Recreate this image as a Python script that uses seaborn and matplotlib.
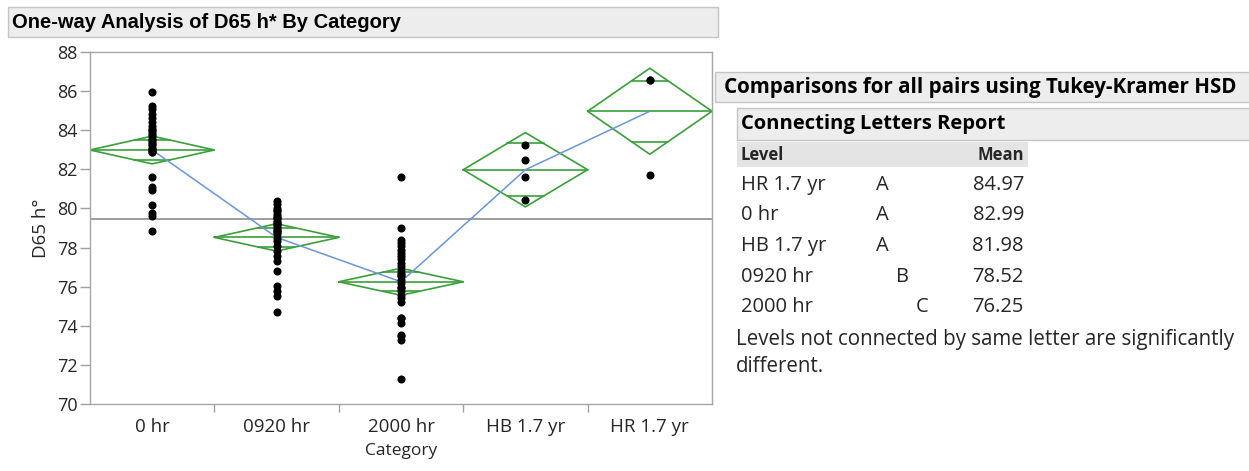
import numpy as np
import pandas as pd
import seaborn as sns
import matplotlib.pyplot as plt
from matplotlib.patches import Rectangle

# ---------------------------
# Data
# ---------------------------
categories = ['0 hr', '0920 hr', '2000 hr', 'HB 1.7 yr', 'HR 1.7 yr']

pts_0hr = [85.96, 85.24, 85.07, 84.85, 84.64, 84.41, 84.24, 84.07, 83.90, 83.73,
           83.56, 83.39, 83.22, 83.05, 82.87, 83.10, 83.30, 83.50, 83.80, 84.00,
           83.00, 82.90, 81.59, 81.12, 80.95, 80.17, 79.79, 79.62, 78.84]
pts_0920 = [80.39, 80.22, 80.04, 79.87, 79.70, 79.53, 79.36, 79.19, 79.01, 78.84,
            78.67, 78.50, 78.33, 78.07, 77.81, 77.56, 77.30, 76.79, 76.01, 75.76,
            75.50, 74.73, 79.30, 79.50, 79.10, 79.90, 79.60, 78.90, 79.20, 78.80]
pts_2000 = [81.59, 79.01, 78.41, 78.24, 78.07, 77.90, 77.73, 77.56, 77.39, 77.21,
            77.04, 76.87, 76.70, 76.53, 76.36, 76.18, 75.93, 75.59, 75.24, 74.38,
            74.13, 73.54, 73.28, 71.30, 76.00, 75.80, 75.40, 74.40, 73.50, 76.60]
pts_hb = [83.25, 82.48, 81.59, 80.44]
pts_hr = [86.55, 86.55, 81.70]

group_means = [82.99, 78.52, 76.25, 81.98, 84.97]
ci_half = [0.71, 0.70, 0.69, 1.90, 2.20]
grand_mean = 79.46

# connecting letters report
report_levels = ['HR 1.7 yr', '0 hr', 'HB 1.7 yr', '0920 hr', '2000 hr']
report_letters = ['A', 'A', 'A', 'B', 'C']
report_means = ['84.97', '82.99', '81.98', '78.52', '76.25']

df = pd.DataFrame({
    'Category': np.repeat(categories, [len(pts_0hr), len(pts_0920), len(pts_2000), len(pts_hb), len(pts_hr)]),
    'value': pts_0hr + pts_0920 + pts_2000 + pts_hb + pts_hr,
})

# ---------------------------
# Figure setup
# ---------------------------
sns.set_theme(style='white')
plt.rcParams['font.family'] = ['Open Sans', 'DejaVu Sans']

W, H = 1249, 471
fig = plt.figure(figsize=(W / 100, H / 100), dpi=100)
ax = fig.add_axes([90 / W, 1 - 404 / H, (712 - 90) / W, (404 - 52) / H])

green = '#3a9f3a'
blue = '#6a96d8'
txt = '#262626'


def fx(x, y):
    return x / W, 1 - y / H


def box(x0, y0, x1, y1, fc='#ededed', ec='#c4c4c4'):
    fig.add_artist(Rectangle((x0 / W, 1 - y1 / H), (x1 - x0) / W, (y1 - y0) / H,
                             transform=fig.transFigure, fc=fc, ec=ec, lw=1))


def ftext(x, y, s, **kw):
    kw.setdefault('va', 'center')
    kw.setdefault('color', txt)
    fig.text(*fx(x, y), s, **kw)


# ---------------------------
# One-way plot
# ---------------------------
ax.axhline(grand_mean, color='#8c8c8c', lw=1.2, zorder=1)

for i, (m, c) in enumerate(zip(group_means, ci_half)):
    ax.plot([i - 0.5, i, i + 0.5, i, i - 0.5], [m, m + c, m, m - c, m], color=green, lw=1.2, zorder=2)
    ax.plot([i - 0.5, i + 0.5], [m, m], color=green, lw=1.2, zorder=2)
    o = c / np.sqrt(2)
    hw = 0.5 * (1 - 1 / np.sqrt(2))
    for yy in (m + o, m - o):
        ax.plot([i - hw, i + hw], [yy, yy], color=green, lw=1.2, zorder=2)

ax.plot(range(len(categories)), group_means, color=blue, lw=1.1, zorder=2)

sns.stripplot(data=df, x='Category', y='value', order=categories, jitter=False,
              color='black', size=5.8, linewidth=0, ax=ax, zorder=3)

ax.set_xlim(-0.5, 4.5)
ax.set_ylim(70, 88)
ax.set_yticks(range(70, 89, 2))
ax.set_xticks(np.arange(0.5, 4, 1), minor=True)
ax.tick_params(axis='x', which='major', length=0, pad=10, labelsize=13.5, labelcolor=txt)
ax.tick_params(axis='x', which='minor', length=6, width=1, color='#a0a0a0', bottom=True)
ax.tick_params(axis='y', length=7, width=1, color='#a0a0a0', left=True, pad=2, labelsize=13, labelcolor=txt)
for s in ax.spines.values():
    s.set_color('#a6a6a6')
    s.set_linewidth(1)
ax.set_xlabel('Category', fontsize=12.5, color=txt, labelpad=5)
ax.set_ylabel('D65 h°', fontsize=13.5, color=txt, labelpad=5)

# ---------------------------
# Title bar
# ---------------------------
box(8, 7, 718, 37)
ftext(12, 22, 'One-way Analysis of D65 h* By Category', fontsize=14.5, fontweight='bold',
      family=['Liberation Sans', 'DejaVu Sans'], color='black')

# ---------------------------
# Tukey-Kramer report
# ---------------------------
box(715, 72, 1252, 102)
ftext(724, 87, 'Comparisons for all pairs using Tukey-Kramer HSD', fontsize=14.8, fontweight='bold', color='black')
box(737, 108, 1252, 140)
ftext(741, 124, 'Connecting Letters Report', fontsize=14.5, fontweight='bold', color='black')
box(737, 142, 1028, 167, fc='#e4e4e4', ec='none')
ftext(741, 155, 'Level', fontsize=12, fontweight='bold')
ftext(1024, 155, 'Mean', fontsize=12, fontweight='bold', ha='right')

letter_x = {'A': 882, 'B': 902, 'C': 922}
for k, (lvl, let, mv) in enumerate(zip(report_levels, report_letters, report_means)):
    yy = 185 + k * 30.5
    ftext(741, yy, lvl, fontsize=14.5)
    ftext(letter_x[let], yy, let, fontsize=14.5, ha='center')
    ftext(1024, yy, mv, fontsize=14.5, ha='right')

ftext(736, 339, 'Levels not connected by same letter are significantly', fontsize=14.8)
ftext(736, 366, 'different.', fontsize=14.8)

plt.savefig('out.png', dpi=100)
